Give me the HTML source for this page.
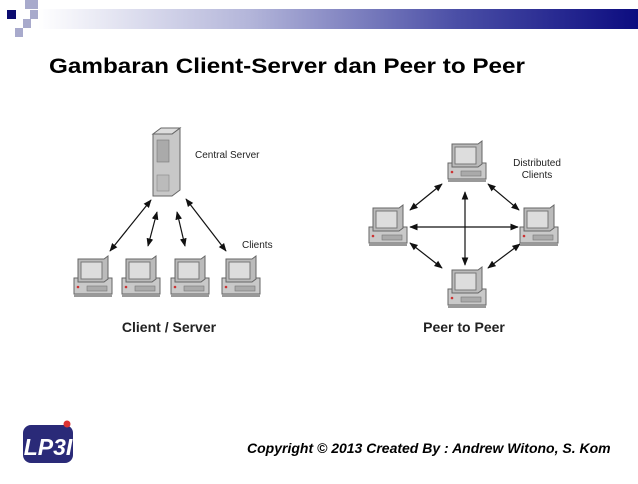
<!DOCTYPE html>
<html><head><style>
body{margin:0;width:638px;height:479px;background:#fff;overflow:hidden;font-family:"Liberation Sans",sans-serif;}
</style></head><body>
<svg width="638" height="479" viewBox="0 0 638 479" xmlns="http://www.w3.org/2000/svg">
<defs>
<linearGradient id="g" x1="0" x2="1" y1="0" y2="0">
<stop offset="0" stop-color="#fff"/><stop offset="0.35" stop-color="#b4b6da"/><stop offset="0.7" stop-color="#4a4ea6"/><stop offset="1" stop-color="#0c0c80"/>
</linearGradient>
<marker id="a" viewBox="0 0 10 10" refX="9" refY="5" markerWidth="7" markerHeight="7" orient="auto-start-reverse"><path d="M0,1 L10,5 L0,9 z" fill="#111"/></marker>
<g id="pc">
<rect x="1" y="22" width="38" height="16" fill="#c9c9c9" stroke="#666" stroke-width="1"/>
<rect x="1" y="38" width="38" height="3" fill="#999"/>
<path d="M5 3 L31 3 L35 0 L35 23 L31 26 L5 26 Z" fill="#bbb" stroke="#666"/>
<rect x="8" y="6" width="21" height="17" fill="#ddd" stroke="#777"/>
<rect x="14" y="30" width="20" height="5" fill="#aaa" stroke="#777" stroke-width="0.6"/>
<circle cx="5" cy="31" r="1.3" fill="#c33"/>
</g>
</defs>
<rect x="38" y="9" width="600" height="20" fill="url(#g)"/>
<rect x="7" y="10" width="9" height="9" fill="#0c0c70"/>
<rect x="25" y="0" width="13" height="9" fill="#a8aacc"/>
<rect x="30" y="10" width="8" height="9" fill="#a8aacc"/>
<rect x="23" y="19" width="8" height="9" fill="#a8aacc"/>
<rect x="15" y="28" width="8" height="9" fill="#a8aacc"/>
<text x="49" y="73" font-size="21" font-weight="bold" fill="#000" textLength="476" lengthAdjust="spacingAndGlyphs">Gambaran Client-Server dan Peer to Peer</text>
<!-- server -->
<path d="M153 134 L172 134 L180 128 L180 190 L172 196 L153 196 Z" fill="#c8c8c8" stroke="#666"/>
<path d="M153 134 L161 128 L180 128 L172 134 Z" fill="#ddd" stroke="#666"/>
<rect x="157" y="140" width="12" height="22" fill="#aaa" stroke="#777" stroke-width="0.6"/>
<rect x="157" y="175" width="12" height="16" fill="#bbb" stroke="#888" stroke-width="0.6"/>
<use href="#pc" x="73" y="256"/><use href="#pc" x="121" y="256"/><use href="#pc" x="170" y="256"/><use href="#pc" x="221" y="256"/>
<g stroke="#111" stroke-width="1.2" fill="none" marker-start="url(#a)" marker-end="url(#a)">
<line x1="110" y1="251" x2="151" y2="200"/>
<line x1="148" y1="246" x2="157" y2="212"/>
<line x1="185" y1="246" x2="177" y2="212"/>
<line x1="226" y1="251" x2="186" y2="199"/>
<line x1="442" y1="184" x2="410" y2="210"/>
<line x1="488" y1="184" x2="519" y2="210"/>
<line x1="410" y1="227" x2="518" y2="227"/>
<line x1="465" y1="192" x2="465" y2="265"/>
<line x1="410" y1="243" x2="442" y2="268"/>
<line x1="520" y1="244" x2="488" y2="268"/>
</g>
<use href="#pc" x="447" y="141"/><use href="#pc" x="368" y="205"/><use href="#pc" x="519" y="205"/><use href="#pc" x="447" y="267"/>
<g font-size="10" fill="#222">
<text x="195" y="158">Central Server</text>
<text x="242" y="248">Clients</text>
<text x="537" y="166" text-anchor="middle">Distributed</text>
<text x="537" y="178" text-anchor="middle">Clients</text>
</g>
<text x="169" y="332" font-size="14" font-weight="bold" text-anchor="middle" fill="#222">Client / Server</text>
<text x="464" y="332" font-size="14" font-weight="bold" text-anchor="middle" fill="#222">Peer to Peer</text>
<!-- logo -->
<rect x="23" y="425" width="50" height="38" rx="8" fill="#2a2a78"/>
<text x="48" y="455" font-size="23" font-weight="bold" fill="#fff" text-anchor="middle" font-style="italic">LP3I</text>
<circle cx="67" cy="424" r="3.5" fill="#d33"/>
<text x="247" y="453" font-size="14" font-weight="bold" font-style="italic" fill="#000">Copyright © 2013 Created By : Andrew Witono, S. Kom</text>
</svg>
</body></html>
